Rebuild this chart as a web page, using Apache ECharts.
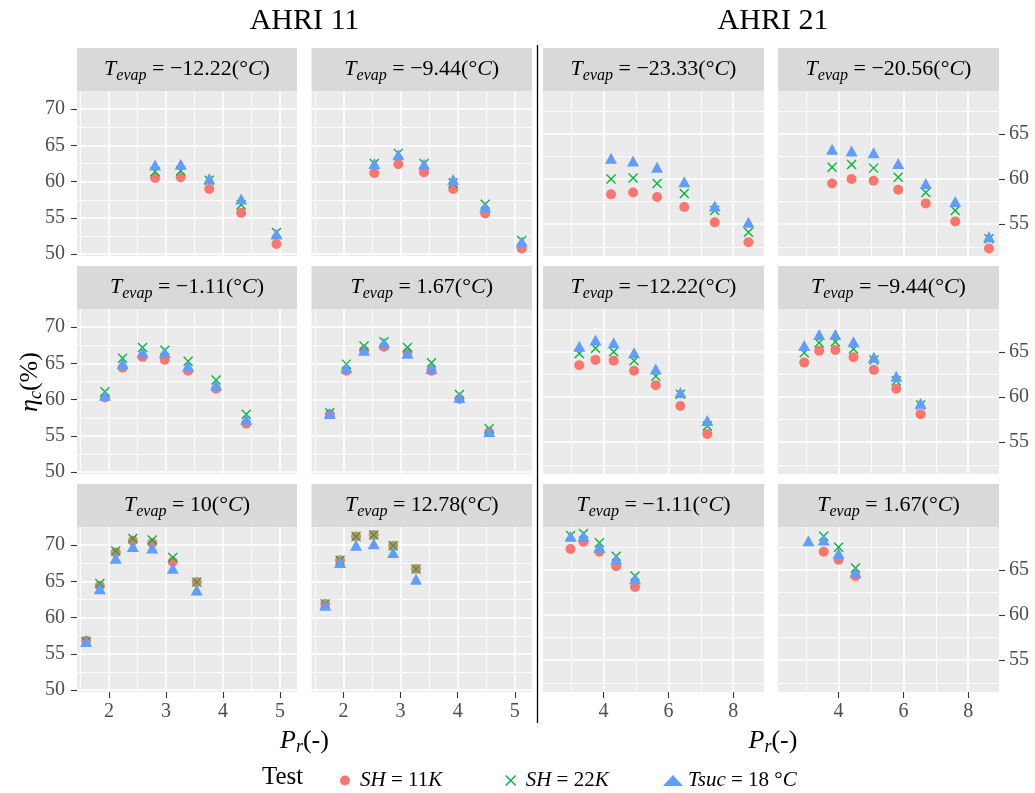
<!DOCTYPE html>
<html><head><meta charset="utf-8">
<script src="https://cdn.jsdelivr.net/npm/echarts@6/dist/echarts.min.js"></script>
<style>html,body{margin:0;padding:0;background:#fff}#c{width:1035px;height:793px}</style>
</head><body><div id="c"></div>
<script>
// ---------- data ----------
const groupTitles = ['AHRI 11', 'AHRI 21'];
const stripTevap = ['\u221212.22', '\u22129.44', '\u221223.33', '\u221220.56',
                    '\u22121.11', '1.67', '\u221212.22', '\u22129.44',
                    '10', '12.78', '\u22121.11', '1.67'];
const seriesNames = ['SH = 11K', 'SH = 22K', 'Tsuc = 18\u00b0C'];
const xTicksA11 = [2, 3, 4, 5];
const xTicksA21 = [4, 6, 8];
const yTicksA11 = [50, 55, 60, 65, 70];
const yTicksA21 = [55, 60, 65];

// AHRI 11, Tevap = -12.22
const p1_pr   = [2.81, 3.26, 3.76, 4.32, 4.94];
const p1_sh11 = [60.5, 60.6, 59.0, 55.7, 51.4];
const p1_sh22 = [61.4, 61.5, 60.2, 56.8, 53.0];
const p1_tsuc = [62.3, 62.4, 60.4, 57.6, 52.8];
// AHRI 11, Tevap = -9.44
const p2_pr   = [2.54, 2.96, 3.41, 3.92, 4.48, 5.12];
const p2_sh11 = [61.2, 62.4, 61.3, 59.0, 55.6, 50.8];
const p2_sh22 = [62.5, 63.9, 62.5, 59.8, 56.9, 51.9];
const p2_tsuc = [62.5, 63.7, 62.4, 60.3, 56.5, 51.7];
// AHRI 21, Tevap = -23.33
const p3_pr   = [4.23, 4.91, 5.65, 6.49, 7.43, 8.47];
const p3_sh11 = [58.3, 58.5, 58.0, 56.9, 55.2, 53.0];
const p3_sh22 = [60.0, 60.1, 59.5, 58.4, 56.5, 54.1];
const p3_tsuc = [62.3, 62.0, 61.3, 59.7, 57.0, 55.2];
// AHRI 21, Tevap = -20.56
const p4_pr   = [3.80, 4.40, 5.08, 5.84, 6.69, 7.60, 8.64];
const p4_sh11 = [59.5, 60.0, 59.8, 58.8, 57.3, 55.3, 52.3];
const p4_sh22 = [61.3, 61.6, 61.2, 60.2, 58.5, 56.5, 53.4];
const p4_tsuc = [63.3, 63.1, 62.9, 61.7, 59.5, 57.5, 53.6];
// AHRI 11, Tevap = -1.11
const p5_pr   = [1.93, 2.24, 2.59, 2.98, 3.39, 3.88, 4.41];
const p5_sh11 = [60.3, 64.4, 65.9, 65.5, 64.0, 61.5, 56.7];
const p5_sh22 = [61.1, 65.7, 67.2, 66.8, 65.3, 62.7, 58.0];
const p5_tsuc = [60.6, 65.0, 66.5, 66.5, 64.6, 62.0, 57.3];
// AHRI 11, Tevap = 1.67
const p6_pr   = [1.76, 2.05, 2.36, 2.71, 3.12, 3.54, 4.03, 4.55];
const p6_sh11 = [58.0, 64.0, 66.8, 67.3, 66.5, 64.0, 60.1, 55.5];
const p6_sh22 = [58.2, 64.9, 67.4, 68.0, 67.2, 65.1, 60.7, 56.0];
const p6_tsuc = [58.1, 64.4, 66.8, 67.8, 66.4, 64.3, 60.3, 55.6];
// AHRI 21, Tevap = -12.22
const p7_pr   = [3.25, 3.75, 4.31, 4.94, 5.61, 6.37, 7.20];
const p7_sh11 = [63.5, 64.1, 64.0, 62.9, 61.3, 59.0, 55.9];
const p7_sh22 = [64.8, 65.4, 65.0, 64.0, 62.3, 60.3, 56.8];
const p7_tsuc = [65.6, 66.3, 66.0, 64.9, 63.1, 60.5, 57.4];
// AHRI 21, Tevap = -9.44
const p8_pr   = [2.94, 3.40, 3.90, 4.46, 5.09, 5.78, 6.53];
const p8_sh11 = [63.8, 65.1, 65.2, 64.4, 63.0, 60.9, 58.1];
const p8_sh22 = [64.9, 66.0, 66.1, 65.3, 64.1, 61.8, 59.1];
const p8_tsuc = [65.7, 66.9, 66.9, 66.1, 64.4, 62.3, 59.3];
// AHRI 11, Tevap = 10
const p9_pr   = [1.60, 1.84, 2.12, 2.42, 2.76, 3.12, 3.54];
const p9_sh11 = [56.8, 64.4, 69.0, 70.6, 70.3, 67.7, 64.9];
const p9_sh22 = [56.7, 64.7, 69.2, 70.9, 70.7, 68.3, 64.9];
const p9_tsuc = [56.7, 64.0, 68.2, 69.8, 69.6, 66.8, 63.8];
// AHRI 11, Tevap = 12.78
const p10_pr   = [1.68, 1.94, 2.22, 2.53, 2.87, 3.27];
const p10_sh11 = [61.9, 67.9, 71.2, 71.4, 69.9, 66.7];
const p10_sh22 = [61.9, 67.9, 71.2, 71.4, 69.9, 66.7];
const p10_tsuc = [61.7, 67.6, 70.0, 70.2, 69.0, 65.3];
// AHRI 21, Tevap = -1.11
const p11_pr   = [2.98, 3.38, 3.87, 4.39, 4.97];
const p11_sh11 = [67.3, 68.1, 67.0, 65.4, 63.1];
const p11_sh22 = [68.8, 69.0, 68.0, 66.5, 64.3];
const p11_tsuc = [68.7, 68.7, 67.5, 66.2, 64.0];
// AHRI 21, Tevap = 1.67
const p12_pr   = [3.07, 3.54, 4.00, 4.52];
const p12_sh11 = [null, 67.0, 66.1, 64.3];
const p12_sh22 = [null, 68.7, 67.5, 65.2];
const p12_tsuc = [68.2, 68.3, 66.8, 64.7];

const panels = [
  [p1_pr, p1_sh11, p1_sh22, p1_tsuc], [p2_pr, p2_sh11, p2_sh22, p2_tsuc],
  [p3_pr, p3_sh11, p3_sh22, p3_tsuc], [p4_pr, p4_sh11, p4_sh22, p4_tsuc],
  [p5_pr, p5_sh11, p5_sh22, p5_tsuc], [p6_pr, p6_sh11, p6_sh22, p6_tsuc],
  [p7_pr, p7_sh11, p7_sh22, p7_tsuc], [p8_pr, p8_sh11, p8_sh22, p8_tsuc],
  [p9_pr, p9_sh11, p9_sh22, p9_tsuc], [p10_pr, p10_sh11, p10_sh22, p10_tsuc],
  [p11_pr, p11_sh11, p11_sh22, p11_tsuc], [p12_pr, p12_sh11, p12_sh22, p12_tsuc]
];

// ---------- layout / style ----------
const FONT = '"Liberation Serif", "DejaVu Serif", serif';
const cols = [{left: 77, width: 220}, {left: 311.5, width: 220.5}, {left: 543, width: 221}, {left: 778, width: 221}];
const rowTops = [91, 309, 527];
const PH = 165, STRIP = 43;
const colors = ['#F8766D', '#00BA38', '#619CFF'];
const crossPath = 'path://M0,0L10,10M10,0L0,10';
const xRangeA11 = [1.44, 5.3], xRangeA21 = [2.13, 8.95];
const yRangeA11 = [49.75, 72.5], yRangeA21 = [51.48, 69.73];

const mathRich = {
  i: {fontFamily: FONT, fontStyle: 'italic', fontSize: 22, color: '#1A1A1A'},
  n: {fontFamily: FONT, fontSize: 22, color: '#1A1A1A'},
  s: {fontFamily: FONT, fontStyle: 'italic', fontSize: 16, color: '#1A1A1A', padding: [12, 0, 0, 0]}
};

const grids = [], xAxes = [], yAxes = [], series = [], graphics = [];
panels.forEach((pd, p) => {
  const r = Math.floor(p / 4), c = p % 4;
  const a21 = c >= 2;
  grids.push({left: cols[c].left, top: rowTops[r], width: cols[c].width, height: PH,
    show: true, backgroundColor: '#EBEBEB', borderWidth: 0, containLabel: false});
  const xr = a21 ? xRangeA21 : xRangeA11, yr = a21 ? yRangeA21 : yRangeA11;
  const xt = a21 ? xTicksA21 : xTicksA11, yt = a21 ? yTicksA21 : yTicksA11;
  const showX = r === 2, showY = (c === 0 || c === 3);
  xAxes.push({gridIndex: p, type: 'value', min: xr[0], max: xr[1],
    minInterval: a21 ? 2 : 1, maxInterval: a21 ? 2 : 1, splitNumber: a21 ? 3 : 4,
    axisLine: {show: false},
    axisTick: {show: showX, length: 6, lineStyle: {color: '#333', width: 1.1}, customValues: xt},
    axisLabel: {show: showX, customValues: xt, margin: 10, color: '#4D4D4D', fontFamily: FONT, fontSize: 20},
    splitLine: {show: true, lineStyle: {color: '#FFFFFF', width: 1.6}},
    minorTick: {show: false, splitNumber: 2},
    minorSplitLine: {show: true, lineStyle: {color: '#FFFFFF', width: 0.8}}
  });
  yAxes.push({gridIndex: p, type: 'value', min: yr[0], max: yr[1], position: c === 3 ? 'right' : 'left',
    minInterval: 5, maxInterval: 5, splitNumber: 4,
    axisLine: {show: false},
    axisTick: {show: showY, length: 6, lineStyle: {color: '#333', width: 1.1}, customValues: yt},
    axisLabel: {show: showY, customValues: yt, margin: c === 3 ? 10 : 12, color: '#4D4D4D', fontFamily: FONT, fontSize: 20},
    splitLine: {show: true, lineStyle: {color: '#FFFFFF', width: 1.6}},
    minorTick: {show: false, splitNumber: 2},
    minorSplitLine: {show: true, lineStyle: {color: '#FFFFFF', width: 0.8}}
  });
  const pr = pd[0];
  const mk = (vals) => pr.map((x, k) => [x, vals[k]]).filter(d => d[1] != null);
  series.push({type: 'scatter', name: seriesNames[0], xAxisIndex: p, yAxisIndex: p, silent: true,
    symbol: 'circle', symbolSize: 10, itemStyle: {color: colors[0], opacity: 1}, data: mk(pd[1])});
  series.push({type: 'scatter', name: seriesNames[1], xAxisIndex: p, yAxisIndex: p, silent: true,
    symbol: crossPath, symbolSize: 9,
    itemStyle: {color: 'rgba(0,0,0,0)', borderColor: colors[1], borderWidth: 1.4, opacity: 1}, data: mk(pd[2])});
  series.push({type: 'scatter', name: seriesNames[2], xAxisIndex: p, yAxisIndex: p, silent: true,
    symbol: 'triangle', symbolSize: [12, 11], itemStyle: {color: colors[2], opacity: 1}, data: mk(pd[3])});

  // facet strip
  graphics.push({type: 'rect', silent: true, z: 1,
    shape: {x: cols[c].left, y: rowTops[r] - STRIP, width: cols[c].width, height: STRIP},
    style: {fill: '#D9D9D9'}});
  graphics.push({type: 'text', silent: true, z: 2,
    x: cols[c].left + cols[c].width / 2, y: rowTops[r] - STRIP / 2,
    style: {text: '{i|T}{s|evap}{n| = ' + stripTevap[p] + '(\u00b0}{i|C}{n|)}', rich: mathRich,
      align: 'center', verticalAlign: 'middle', textAlign: 'center', textVerticalAlign: 'middle'}});
});

// titles, separator, axis titles
const bigRich = {
  i: {fontFamily: FONT, fontStyle: 'italic', fontSize: 26, color: '#000'},
  n: {fontFamily: FONT, fontSize: 26, color: '#000'},
  s: {fontFamily: FONT, fontStyle: 'italic', fontSize: 18, color: '#000', padding: [12, 0, 0, 0]}
};
const leftCenter = (cols[0].left + cols[1].left + cols[1].width) / 2;
const rightCenter = (cols[2].left + cols[3].left + cols[3].width) / 2 + 2;
graphics.push({type: 'text', silent: true, x: leftCenter, y: 21,
  style: {text: groupTitles[0], fontFamily: FONT, fontSize: 30, fill: '#000', align: 'center', verticalAlign: 'middle', textAlign: 'center', textVerticalAlign: 'middle'}});
graphics.push({type: 'text', silent: true, x: rightCenter, y: 21,
  style: {text: groupTitles[1], fontFamily: FONT, fontSize: 30, fill: '#000', align: 'center', verticalAlign: 'middle', textAlign: 'center', textVerticalAlign: 'middle'}});
graphics.push({type: 'line', silent: true, shape: {x1: 537.5, y1: 45, x2: 537.5, y2: 723},
  style: {stroke: '#000', lineWidth: 1.3}});
graphics.push({type: 'text', silent: true, x: leftCenter, y: 741,
  style: {text: '{i|P}{s|r}{n|(-)}', rich: bigRich, align: 'center', verticalAlign: 'middle', textAlign: 'center', textVerticalAlign: 'middle'}});
graphics.push({type: 'text', silent: true, x: rightCenter, y: 741,
  style: {text: '{i|P}{s|r}{n|(-)}', rich: bigRich, align: 'center', verticalAlign: 'middle', textAlign: 'center', textVerticalAlign: 'middle'}});
graphics.push({type: 'text', silent: true, x: 30, y: 382, rotation: Math.PI / 2,
  style: {text: '{i|\u03b7}{s|c}{n|(%)}', rich: bigRich, align: 'center', verticalAlign: 'middle', textAlign: 'center', textVerticalAlign: 'middle'}});
graphics.push({type: 'text', silent: true, x: 262, y: 777,
  style: {text: 'Test', fontFamily: FONT, fontSize: 25, fill: '#000', align: 'left', verticalAlign: 'middle', textAlign: 'left', textVerticalAlign: 'middle'}});

// legend (one component per key, ggplot spacing)
const legRich = {
  i: {fontFamily: FONT, fontStyle: 'italic', fontSize: 21, color: '#000'},
  n: {fontFamily: FONT, fontSize: 21, color: '#000'}
};
const legFmt = {
  'SH = 11K': '{i|SH}{n| = 11}{i|K}',
  'SH = 22K': '{i|SH}{n| = 22}{i|K}',
  'Tsuc = 18\u00b0C': '{i|Tsuc}{n| = 18 \u00b0}{i|C}'
};
const legLefts = [335, 500, 658];
const legIcons = ['circle', crossPath, 'triangle'];
const legStyles = [
  {color: colors[0]},
  {color: 'rgba(0,0,0,0)', borderColor: colors[1], borderWidth: 1.4},
  {color: colors[2]}
];
const legends = seriesNames.map((nm, k) => ({
  left: legLefts[k], top: 765, orient: 'horizontal', selectedMode: false,
  itemWidth: 20, itemHeight: k === 2 ? 11 : 10, symbolKeepAspect: true,
  data: [{name: nm, icon: legIcons[k], itemStyle: legStyles[k]}],
  formatter: (n) => legFmt[n],
  textStyle: {fontFamily: FONT, fontSize: 21, color: '#000', rich: legRich}
}));

const chart = echarts.init(document.getElementById('c'), null, {renderer: 'canvas'});
chart.setOption({
  backgroundColor: '#FFFFFF',
  animation: false,
  grid: grids, xAxis: xAxes, yAxis: yAxes, series: series,
  legend: legends,
  graphic: graphics
});
</script></body></html>
